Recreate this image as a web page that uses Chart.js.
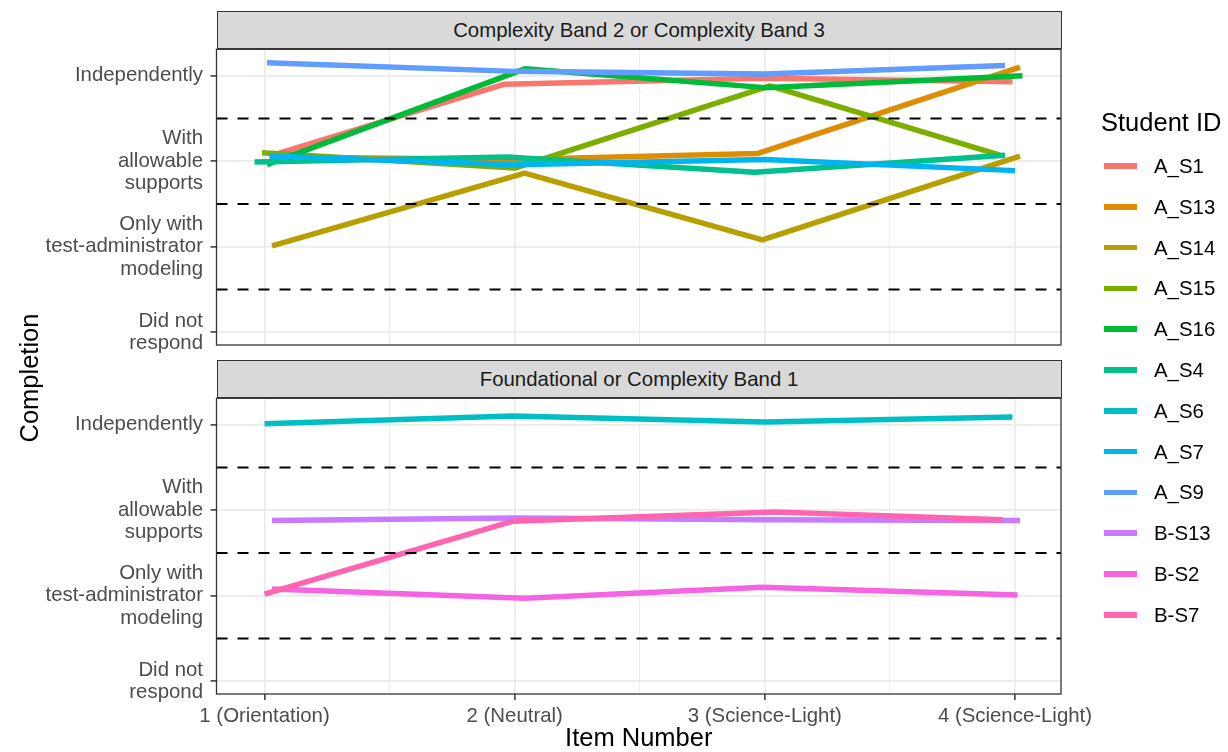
<!DOCTYPE html>
<html>
<head>
<meta charset="utf-8">
<script src="https://cdn.jsdelivr.net/npm/chart.js@4.4.1/dist/chart.umd.min.js"></script>
<style>
  html, body { margin: 0; padding: 0; background: #fff; }
  body { width: 1228px; height: 752px; position: relative; overflow: hidden;
         font-family: "Liberation Sans", Arial, sans-serif; }
  canvas { position: absolute; left: 0; }
  .strip { position: absolute; left: 216.5px; width: 845px; box-sizing: border-box;
           background: #D9D9D9; border: 1.3px solid #333333; color: #1A1A1A;
           font-size: 20.4px; display: flex; align-items: center; justify-content: center; z-index: 2; }
  .ytitle { position: absolute; width: 300px; height: 26px; line-height: 26px; text-align: center;
            font-size: 25.5px; color: #000; transform: rotate(-90deg); z-index: 2; }
  .legend-title { position: absolute; left: 1101px; height: 26px; line-height: 26px;
                  font-size: 25.5px; color: #000; white-space: nowrap; }
  .key { position: absolute; left: 1104px; width: 33px; height: 5.5px; }
  .key-label { position: absolute; left: 1154px; height: 22px; line-height: 22px;
               font-size: 20.4px; color: #000; white-space: nowrap; }
</style>
</head>
<body>
<canvas id="topPanel" width="1228" height="372" style="top:0px"></canvas>
<canvas id="bottomPanel" width="1228" height="400" style="top:352px"></canvas>
<div id="overlay"></div>
<script>
// ---- data -------------------------------------------------------------
const itemLabels = ['1 (Orientation)', '2 (Neutral)', '3 (Science-Light)', '4 (Science-Light)'];
const levelLabels = [['Did not', 'respond'], ['Only with', 'test-administrator', 'modeling'],
                     ['With', 'allowable', 'supports'], 'Independently'];
const levelValues = [1, 2, 3, 4];
const cutPoints = [1.5, 2.5, 3.5];
const gridSteps = [1, 1.5, 2, 2.5, 3, 3.5, 4];

const studentIds = ['A_S1', 'A_S13', 'A_S14', 'A_S15', 'A_S16', 'A_S4',
                    'A_S6', 'A_S7', 'A_S9', 'B-S13', 'B-S2', 'B-S7'];
const studentColors = ['#F8766D', '#DE8C00', '#B79F00', '#7CAE00', '#00BA38', '#00C08B',
                       '#00BFC4', '#00B4F0', '#619CFF', '#C77CFF', '#F564E3', '#FF64B0'];

const panelTitles = ['Complexity Band 2 or Complexity Band 3', 'Foundational or Complexity Band 1'];
const topPanelIds = ['A_S1', 'A_S13', 'A_S14', 'A_S15', 'A_S16', 'A_S4', 'A_S7', 'A_S9'];
const bottomPanelIds = ['A_S6', 'B-S13', 'B-S2', 'B-S7'];

// jittered item number and completion level for each student
const A_S1_item  = [1.02, 1.96, 3.00, 3.99];  const A_S1_level  = [3.06, 3.90, 3.97, 3.93];
const A_S13_item = [1.02, 2.00, 2.97, 4.02];  const A_S13_level = [3.05, 3.02, 3.09, 4.10];
const A_S14_item = [1.03, 2.04, 2.99, 4.02];  const A_S14_level = [2.01, 2.86, 2.08, 3.06];
const A_S15_item = [0.99, 2.00, 3.02, 3.94];  const A_S15_level = [3.10, 2.92, 3.88, 3.07];
const A_S16_item = [1.01, 2.04, 3.00, 4.03];  const A_S16_level = [2.96, 4.08, 3.86, 4.00];
const A_S4_item  = [0.96, 1.97, 2.96, 3.96];  const A_S4_level  = [2.99, 3.05, 2.87, 3.07];
const A_S6_item  = [1.00, 1.99, 3.00, 3.99];  const A_S6_level  = [4.01, 4.10, 4.03, 4.09];
const A_S7_item  = [1.02, 2.00, 3.00, 4.00];  const A_S7_level  = [3.06, 2.96, 3.02, 2.89];
const A_S9_item  = [1.01, 2.00, 3.00, 3.96];  const A_S9_level  = [4.15, 4.05, 4.02, 4.12];
const B_S13_item = [1.03, 2.00, 3.00, 4.02];  const B_S13_level = [2.88, 2.91, 2.89, 2.88];
const B_S2_item  = [1.03, 2.04, 2.99, 4.01];  const B_S2_level  = [2.08, 1.97, 2.10, 2.01];
const B_S7_item  = [1.00, 1.99, 3.04, 3.95];  const B_S7_level  = [2.02, 2.87, 2.98, 2.89];

const seriesById = {
  'A_S1': [A_S1_item, A_S1_level], 'A_S13': [A_S13_item, A_S13_level],
  'A_S14': [A_S14_item, A_S14_level], 'A_S15': [A_S15_item, A_S15_level],
  'A_S16': [A_S16_item, A_S16_level], 'A_S4': [A_S4_item, A_S4_level],
  'A_S6': [A_S6_item, A_S6_level], 'A_S7': [A_S7_item, A_S7_level],
  'A_S9': [A_S9_item, A_S9_level], 'B-S13': [B_S13_item, B_S13_level],
  'B-S2': [B_S2_item, B_S2_level], 'B-S7': [B_S7_item, B_S7_level]
};

// ---- drawing ----------------------------------------------------------
const FONT = '"Liberation Sans", Arial, sans-serif';
const X_MIN = 0.808, X_MAX = 4.184;
const Y_MIN = 0.852, Y_MAX = 4.308;

// dashed cut lines and the dark panel frame, on top of the data lines
const panelDecor = {
  id: 'panelDecor',
  afterDatasetsDraw(chart) {
    const { ctx, chartArea: a, scales: { y } } = chart;
    ctx.save();
    ctx.strokeStyle = '#000';
    ctx.lineWidth = 2;
    ctx.setLineDash([11, 10]);
    cutPoints.forEach(v => {
      const py = y.getPixelForValue(v);
      ctx.beginPath();
      ctx.moveTo(a.left, py);
      ctx.lineTo(a.right, py);
      ctx.stroke();
    });
    ctx.setLineDash([]);
    ctx.strokeStyle = '#333333';
    ctx.lineWidth = 1.3;
    ctx.strokeRect(a.left, a.top, a.right - a.left, a.bottom - a.top);
    ctx.restore();
  }
};

function buildDatasets(ids) {
  return ids.map((id, i) => {
    const [xs, ys] = seriesById[id];
    return {
      label: id,
      data: xs.map((x, k) => ({ x: x, y: ys[k] })),
      borderColor: studentColors[studentIds.indexOf(id)],
      borderWidth: 5.5,
      borderJoinStyle: 'round',
      borderCapStyle: 'butt',
      pointRadius: 0,
      tension: 0,
      fill: false,
      order: ids.length - i
    };
  });
}

function makePanel(canvasId, ids, showX, padding) {
  const isInt = v => Number.isInteger(v);
  return new Chart(document.getElementById(canvasId), {
    type: 'line',
    data: { datasets: buildDatasets(ids) },
    options: {
      responsive: false,
      animation: false,
      events: [],
      layout: { padding: padding },
      plugins: { legend: { display: false }, tooltip: { enabled: false } },
      scales: {
        x: {
          type: 'linear', bounds: 'data', min: X_MIN, max: X_MAX,
          afterBuildTicks: s => { s.ticks = gridSteps.map(v => ({ value: v })); },
          afterFit: s => { s.height = showX ? 58 : 0; s.paddingLeft = 0; s.paddingRight = 0; },
          ticks: {
            display: showX, autoSkip: false, maxRotation: 0, minRotation: 0, padding: 4.5,
            color: '#4D4D4D', font: { family: FONT, size: 20.4, lineHeight: 1.2 },
            callback: v => isInt(v) ? itemLabels[v - 1] : ''
          },
          grid: {
            color: '#EBEBEB',
            lineWidth: c => isInt(c.tick.value) ? 1.8 : 0.9,
            drawTicks: showX, tickLength: 6, tickWidth: 1.5,
            tickColor: c => isInt(c.tick.value) ? '#333333' : 'rgba(0,0,0,0)'
          },
          border: { display: false },
          title: {
            display: showX, text: 'Item Number', color: '#000',
            font: { family: FONT, size: 25.5, lineHeight: 1 }, padding: 0
          }
        },
        y: {
          type: 'linear', bounds: 'data', min: Y_MIN, max: Y_MAX,
          afterBuildTicks: s => { s.ticks = levelValues.map(v => ({ value: v })); },
          afterFit: s => { s.width = 216.5; s.paddingTop = 0; s.paddingBottom = 0; },
          ticks: {
            autoSkip: false, padding: 7.5, color: '#4D4D4D',
            font: { family: FONT, size: 20.4, lineHeight: 1.1 },
            callback: v => levelLabels[levelValues.indexOf(v)]
          },
          grid: { color: '#EBEBEB', lineWidth: 1.8, tickLength: 6, tickWidth: 1.5, tickColor: '#333333' },
          border: { display: false }
        }
      }
    },
    plugins: [panelDecor]
  });
}

makePanel('topPanel', topPanelIds, false, { left: 0, right: 167, top: 49.3, bottom: 27 });
makePanel('bottomPanel', bottomPanelIds, true, { left: 0, right: 167, top: 46.3, bottom: 0 });

// facet strips, axis title and legend
const overlay = document.getElementById('overlay');
const stripTops = [11, 360];
panelTitles.forEach((t, i) => {
  const d = document.createElement('div');
  d.className = 'strip';
  d.style.top = stripTops[i] + 'px';
  d.style.height = '38.3px';
  d.textContent = t;
  overlay.appendChild(d);
});

const yt = document.createElement('div');
yt.className = 'ytitle';
yt.style.left = (28.5 - 150) + 'px';
yt.style.top = (378 - 13) + 'px';
yt.textContent = 'Completion';
overlay.appendChild(yt);

const lt = document.createElement('div');
lt.className = 'legend-title';
lt.style.top = (121.7 - 13) + 'px';
lt.textContent = 'Student ID';
overlay.appendChild(lt);

studentIds.forEach((id, i) => {
  const cy = 166 + i * 40.8;
  const k = document.createElement('div');
  k.className = 'key';
  k.style.top = (cy - 2.75) + 'px';
  k.style.background = studentColors[i];
  overlay.appendChild(k);
  const l = document.createElement('div');
  l.className = 'key-label';
  l.style.top = (cy - 11) + 'px';
  l.textContent = id;
  overlay.appendChild(l);
});
</script>
</body>
</html>
